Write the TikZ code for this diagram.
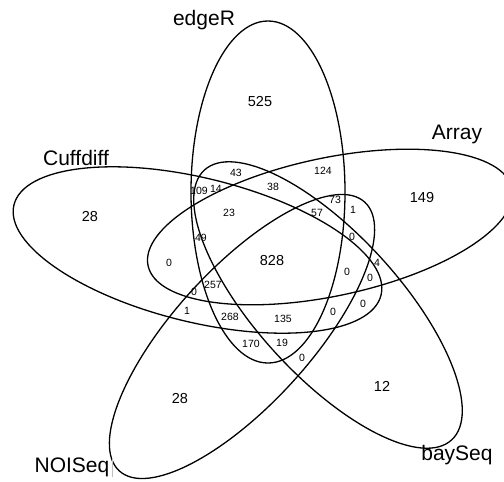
\documentclass[tikz,border=0pt]{standalone}
\usepackage{fontspec}
\setmainfont{Liberation Sans}

\begin{document}
\begin{tikzpicture}[x=1pt, y=-1pt,
  set/.style={draw, line width=1.3pt},
  setname/.style={font=\fontsize{21}{24}\selectfont, inner sep=0pt},
  big/.style={font=\fontsize{14.5}{16}\selectfont, inner sep=0pt},
  small/.style={font=\fontsize{10.5}{12}\selectfont, inner sep=0pt}]
\useasboundingbox (0,0) rectangle (504,482);
\clip (0,0) rectangle (504,482);

\draw[set] (268,192) ellipse (77 and 171);
\draw[set, rotate around={-13.8:(197.5,250)}] (197.5,250) ellipse (189 and 72);
\draw[set, rotate around={12:(330,227)}] (330,227) ellipse (186 and 69);
\draw[set, rotate around={-47.5:(328,305)}] (328,305) ellipse (183 and 71);
\draw[set, rotate around={47.6:(242,336.5)}] (242,336.5) ellipse (182 and 68);

\node[setname] (edger) at (204,20) {edgeR};
\node[setname] (cuffdiff) at (76,158) {Cuffdiff};
\node[setname] (array) at (457,134) {Array};
\node[setname, anchor=base] (bayseq) at (457,460) {baySeq};
\node[setname, anchor=base] (noiseq) at (72,472) {NOISeq};
\draw[black!25, line width=0.6pt] ([xshift=3pt]noiseq.base east) ++(0,5) -- ++(0,-19);

\node[big] (c525) at (260,102) {525};
\node[big] (c28a) at (90,217) {28};
\node[big] (c149) at (422,198) {149};
\node[big] (c12) at (382,386) {12};
\node[big] (c28b) at (180,399) {28};
\node[big] (c828) at (272,261) {828};

\node[small] (c43) at (236,173) {43};
\node[small] (c124) at (323,171) {124};
\node[small] (c109) at (199,191) {109};
\node[small] (c14) at (216,189) {14};
\node[small] (c38) at (273,187) {38};
\node[small] (c73) at (335,200) {73};
\node[small] (c1a) at (353,210) {1};
\node[small] (c23) at (229,213) {23};
\node[small] (c57) at (317,213) {57};
\node[small] (c49) at (201,238) {49};
\node[small] (c0a) at (352,237) {0};
\node[small] (c0b) at (169,263) {0};
\node[small] (c4) at (377,263) {4};
\node[small] (c0c) at (347,272) {0};
\node[small] (c0d) at (370,278) {0};
\node[small] (c257) at (213,285) {257};
\node[small] (c0e) at (194,292) {0};
\node[small] (c0f) at (363,304) {0};
\node[small] (c0g) at (333,312) {0};
\node[small] (c1b) at (187,311) {1};
\node[small] (c268) at (230,317) {268};
\node[small] (c135) at (283,319) {135};
\node[small] (c170) at (251,344) {170};
\node[small] (c19) at (282,343) {19};
\node[small] (c0h) at (302,358) {0};
\end{tikzpicture}
\end{document}
